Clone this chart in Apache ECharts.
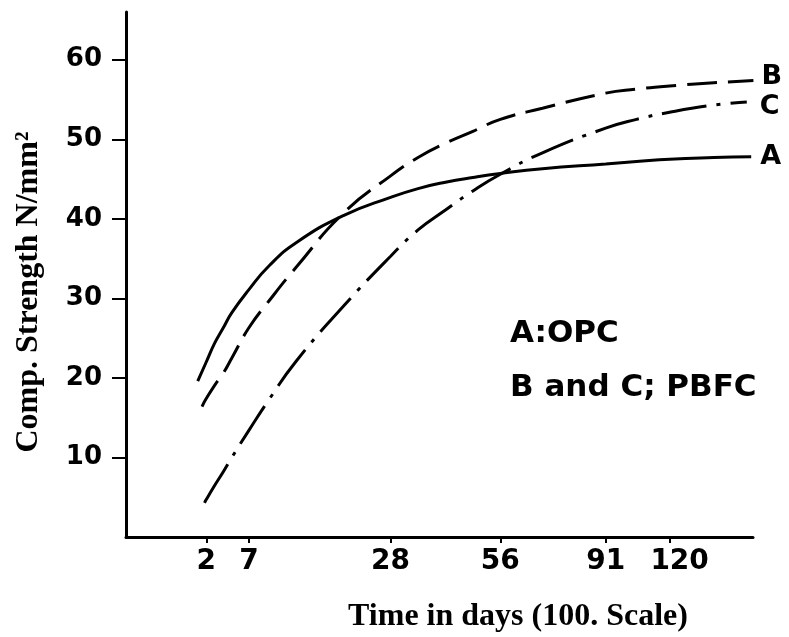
<!DOCTYPE html>
<html><head><meta charset="utf-8">
<script src="https://cdn.jsdelivr.net/npm/echarts@6/dist/echarts.min.js"></script>
<style>html,body{margin:0;padding:0;background:#fff}#c{width:789px;height:637px}</style>
</head><body><div id="c"></div>
<script>
// Time axis: tick labels (days) and where each sits on the figure's "100. Scale"
const tickDays = [2, 7, 28, 56, 91, 120];
const tickScale = [12.8, 19.6, 42.2, 59.7, 76.5, 86.7];
const yTicks = [10, 20, 30, 40, 50, 60];

// A: OPC (solid)
const daysA = [1, 2, 3, 4, 5, 7, 10, 14, 21, 28, 35, 42, 49, 56, 70, 91, 105, 120, 140, 157];
const valsA = [19.6, 22.0, 24.4, 26.3, 28.2, 31.1, 34.1, 37.0, 40.4, 42.7, 43.8, 44.6, 45.2, 45.7, 46.3, 46.9, 47.2, 47.5, 47.7, 47.8];
// B: PBFC (dashed)
const daysB = [1.5, 2, 3, 4, 5, 7, 10, 14, 21, 28, 35, 42, 49, 56, 70, 91, 105, 120, 140, 158];
const valsB = [16.4, 17.4, 19.1, 20.6, 22.5, 26.3, 29.7, 33.9, 40.7, 45.4, 47.7, 49.5, 51.0, 52.5, 53.9, 55.8, 56.3, 56.7, 57.1, 57.4];
// C: PBFC (dash-dot)
const daysC = [1.8, 2, 3, 4, 5, 7, 10, 14, 21, 28, 35, 42, 49, 56, 70, 91, 105, 120, 140, 155];
const valsC = [4.3, 4.7, 6.5, 8.2, 10.0, 13.4, 17.3, 22.1, 29.0, 35.3, 38.6, 41.1, 43.5, 45.6, 48.3, 51.4, 52.5, 53.4, 54.3, 54.7];

const notes = ['A:OPC', 'B and C; PBFC'];

function dayToScale(d) {
  let i = 0;
  if (d <= tickDays[0]) i = 0;
  else if (d >= tickDays[tickDays.length - 1]) i = tickDays.length - 2;
  else { while (d > tickDays[i + 1]) i++; }
  const t = (d - tickDays[i]) / (tickDays[i + 1] - tickDays[i]);
  return tickScale[i] + t * (tickScale[i + 1] - tickScale[i]);
}
function pairs(days, vals) { return days.map((d, i) => [dayToScale(d), vals[i]]); }

const chart = echarts.init(document.getElementById('c'), null, {renderer: 'canvas'});
const lbl = {fontFamily: 'DejaVu Sans', fontWeight: 'bold', color: '#000'};
function endLabel(dist, off) {
  return {show: true, formatter: '{a}', fontSize: 27, fontWeight: 'bold', fontFamily: 'DejaVu Sans', color: '#000', distance: dist, offset: off};
}
chart.setOption({
  animation: false,
  backgroundColor: '#fff',
  grid: {left: 126, right: 36, top: 12, bottom: 100, containLabel: false, outerBoundsMode: 'none'},
  xAxis: {
    type: 'value', min: 0, max: 100,
    axisLine: {show: true, lineStyle: {color: '#000', width: 3}},
    axisTick: {show: true, customValues: tickScale, length: 6, lineStyle: {color: '#000', width: 2}},
    axisLabel: Object.assign({}, lbl, {
      customValues: tickScale, fontSize: 28, margin: 11,
      formatter: function (v) {
        const k = tickScale.findIndex(s => Math.abs(s - v) < 0.05);
        if (k < 0) return '';
        return k === tickScale.length - 1 ? '{s|' + tickDays[k] + '}' : String(tickDays[k]);
      },
      rich: {s: {fontSize: 28, fontWeight: 'bold', fontFamily: 'DejaVu Sans', color: '#000', padding: [0, 0, 0, 20]}}
    }),
    splitLine: {show: false}
  },
  yAxis: {
    type: 'value', min: 0, max: 66, interval: 10,
    axisLine: {show: true, lineStyle: {color: '#000', width: 3}},
    axisTick: {show: true, customValues: yTicks, length: 14, lineStyle: {color: '#000', width: 2}},
    axisLabel: Object.assign({}, lbl, {
      customValues: yTicks, fontSize: 26, margin: 24,
      formatter: function (v) { return yTicks.indexOf(v) >= 0 ? String(v) : ''; }
    }),
    splitLine: {show: false}
  },
  series: [
    {type: 'line', name: 'A', data: pairs(daysA, valsA), showSymbol: false, smooth: 0.5,
     lineStyle: {color: '#000', width: 3, type: 'solid'}, endLabel: endLabel(9, [0, 0])},
    {type: 'line', name: 'B', data: pairs(daysB, valsB), showSymbol: false, smooth: 0.5,
     lineStyle: {color: '#000', width: 3, type: [30, 11]}, endLabel: endLabel(8, [0, -3])},
    {type: 'line', name: 'C', data: pairs(daysC, valsC), showSymbol: false, smooth: 0.5,
     lineStyle: {color: '#000', width: 3, type: [45, 10, 4, 10]}, endLabel: endLabel(13, [0, 5])}
  ],
  graphic: [
    {type: 'text', x: 518, y: 617, style: {text: 'Time in days (100. Scale)', fontSize: 32, fontWeight: 'bold', fontFamily: 'Liberation Serif', fill: '#000', textAlign: 'center', textVerticalAlign: 'middle'}},
    {type: 'text', x: 29, y: 292, rotation: Math.PI / 2, style: {text: 'Comp. Strength N/mm²', fontSize: 32, fontWeight: 'bold', fontFamily: 'Liberation Serif', fill: '#000', textAlign: 'center', textVerticalAlign: 'middle'}},
    {type: 'text', x: 510, y: 334, style: {text: notes[0], fontSize: 31, fontWeight: 'bold', fontFamily: 'DejaVu Sans', fill: '#000', textAlign: 'left', textVerticalAlign: 'middle'}},
    {type: 'text', x: 510, y: 388, style: {text: notes[1], fontSize: 31, fontWeight: 'bold', fontFamily: 'DejaVu Sans', fill: '#000', textAlign: 'left', textVerticalAlign: 'middle'}}
  ]
});
</script></body></html>
